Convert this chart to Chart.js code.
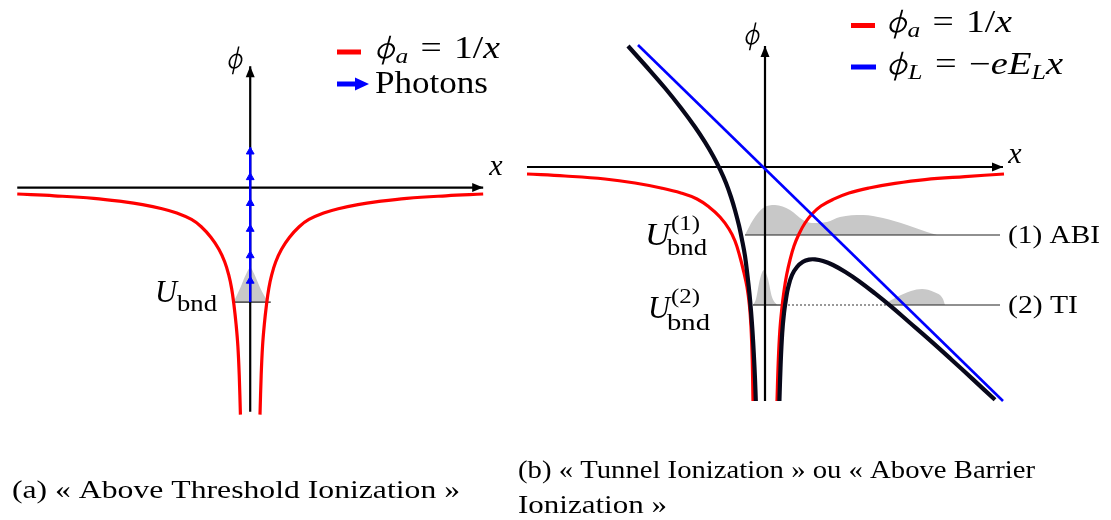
<!DOCTYPE html>
<html>
<head>
<meta charset="utf-8">
<script src="https://cdn.jsdelivr.net/npm/chart.js@4/dist/chart.umd.min.js"></script>
<style>
  body { margin: 0; background: #fff; width: 1111px; height: 520px; overflow: hidden; position: relative; }
  canvas { position: absolute; top: 0; }
</style>
</head>
<body>
<canvas id="chartA" width="520" height="520" style="left:0px"></canvas>
<canvas id="chartB" width="601" height="520" style="left:510px"></canvas>
<script>
// ---- panel (a): above threshold ionization ----
const aAxisX = [-11.9, 11.9];
const aAxisY = [-11.45, 6.2];
const aRedLX = [-11.9, -10, -8, -6.5, -5.5, -4.5, -3.75, -3.0, -2.5, -2.0, -1.6, -1.3, -1.1, -0.95, -0.83, -0.72, -0.63, -0.56, -0.5];
const aRedLY = [-0.33, -0.42, -0.55, -0.72, -0.87, -1.08, -1.3, -1.63, -2.0, -2.55, -3.15, -3.8, -4.45, -5.15, -6.0, -7.0, -8.1, -9.6, -11.6];
const aRedRX = [0.5, 0.56, 0.63, 0.72, 0.83, 0.95, 1.1, 1.3, 1.6, 2.0, 2.5, 3.0, 3.75, 4.5, 5.5, 6.5, 8, 10, 11.9];
const aRedRY = [-11.6, -9.6, -8.1, -7.0, -6.0, -5.15, -4.45, -3.8, -3.15, -2.55, -2.0, -1.63, -1.3, -1.08, -0.87, -0.72, -0.55, -0.42, -0.33];
const aUbnd = -5.85;
const aLevelX = [-0.9, 1.05];
const aWaveX = [-0.85, -0.5, -0.2, 0, 0.2, 0.5, 0.9];
const aWaveY = [-5.85, -5.1, -4.4, -4.1, -4.4, -5.1, -5.85];
const aPhotonLine = [-5.85, 2.05];
const aPhotonHeads = [1.83, 0.52, -0.8, -2.12, -3.47, -4.77];

// ---- panel (b): tunnel / above barrier ionization ----
const bAxisX = [-11.9, 11.9];
const bAxisY = [-11.7, 6.05];
const bRedLX = [-11.9, -10, -8, -6.5, -5.2, -4.2, -3.4, -2.8, -2.25, -1.8, -1.5, -1.25, -1.05, -0.9, -0.78, -0.7, -0.64, -0.6];
const bRedLY = [-0.35, -0.45, -0.6, -0.8, -1.05, -1.3, -1.6, -2.0, -2.5, -3.1, -3.7, -4.5, -5.3, -6.0, -6.9, -8.0, -9.6, -11.7];
const bRedRX = [0.6, 0.66, 0.74, 0.84, 0.95, 1.08, 1.25, 1.45, 1.7, 2.0, 2.35, 2.8, 3.4, 4.2, 5.2, 6.5, 8.0, 10, 11.95];
const bRedRY = [-11.7, -9.8, -8.2, -7.1, -6.2, -5.4, -4.65, -3.95, -3.35, -2.8, -2.35, -1.95, -1.62, -1.3, -1.05, -0.82, -0.63, -0.48, -0.35];
const bBlackLX = [-6.85, -6.0, -5.0, -4.2, -3.5, -3.0, -2.6, -2.25, -1.95, -1.7, -1.5, -1.3, -1.15, -1.0, -0.88, -0.78, -0.7, -0.63, -0.56, -0.5, -0.46];
const bBlackLY = [6.05, 5.1, 3.95, 2.95, 2.0, 1.24, 0.56, -0.12, -0.8, -1.5, -2.16, -2.93, -3.64, -4.45, -5.4, -6.3, -7.2, -8.15, -9.35, -10.6, -11.7];
const bBlackRX = [0.72, 0.78, 0.86, 0.95, 1.05, 1.15, 1.35, 1.6, 1.9, 2.2, 2.5, 2.9, 3.4, 4.0, 4.7, 5.5, 6.3, 7.2, 8.2, 9.3, 10.4, 11.5];
const bBlackRY = [-11.7, -9.9, -8.3, -7.3, -6.6, -6.05, -5.4, -5.0, -4.74, -4.63, -4.62, -4.7, -4.9, -5.24, -5.71, -6.32, -6.97, -7.75, -8.62, -9.61, -10.62, -11.64];
const bBlueX = [-6.35, 11.9];
const bBlueY = [6.1, -11.7];
const bLevel1 = -3.4;
const bLevel1X = [-1.0, 11.75];
const bLevel2 = -6.9;
const bLevel2X = [-0.6, 0.95, 6.2, 11.75];
const bWave1X = [-1.0, -0.6, -0.1, 0.5, 1.25, 1.9, 2.35, 3.1, 3.75, 4.9, 5.9, 7.1, 8.1, 8.6];
const bWave1Y = [-3.4, -2.65, -2.05, -1.9, -2.15, -2.65, -2.8, -2.75, -2.5, -2.4, -2.55, -2.9, -3.25, -3.4];
const bWave2X = [-0.6, -0.45, -0.25, -0.05, 0.15, 0.35, 0.6];
const bWave2Y = [-6.9, -6.6, -5.6, -5.15, -5.6, -6.5, -6.9];
const bWave3X = [5.9, 6.6, 7.3, 7.85, 8.45, 8.9, 9.0];
const bWave3Y = [-6.9, -6.5, -6.2, -6.1, -6.25, -6.6, -6.9];

const PX = 20; // pixels per data unit in both panels
const SERIF = '"Liberation Serif", "DejaVu Serif", serif';
const RED = '#ff0000', BLUE = '#0000ff', INK = '#000000', CURVE = '#08081a', GRAY = '#c8c8c8';

function pts(xs, ys) {
    return xs.map((x, i) => ({ x: x, y: ys[i] }));
}

function line(data, color, width, order, extra) {
    return Object.assign({
        data: data, borderColor: color, borderWidth: width, order: order,
        pointRadius: 0, showLine: true, fill: false, clip: false, tension: 0
    }, extra || {});
}

function curve(data, color, width, order) {
    return line(data, color, width, order, { tension: 0.4 });
}

function bump(data, base) {
    return {
        data: data, order: 20, showLine: true, pointRadius: 0, clip: false,
        borderWidth: 0, borderColor: 'rgba(0,0,0,0)', backgroundColor: GRAY,
        fill: { value: base }, cubicInterpolationMode: 'monotone'
    };
}

function scales(w, h, ox, oy) {
    return {
        x: { type: 'linear', display: false, min: -ox / PX, max: (w - ox) / PX },
        y: { type: 'linear', display: false, min: -(h - oy) / PX, max: oy / PX }
    };
}

// arrow heads on the last point of flagged datasets
const arrowPlugin = {
    id: 'arrowHeads',
    afterDatasetsDraw(chart) {
        const ctx = chart.ctx;
        chart.data.datasets.forEach((ds, i) => {
            if (!ds.arrowEnd) return;
            const el = chart.getDatasetMeta(i).data;
            const a = el[el.length - 2], b = el[el.length - 1];
            const ang = Math.atan2(b.y - a.y, b.x - a.x);
            ctx.save();
            ctx.translate(b.x, b.y);
            ctx.rotate(ang);
            ctx.beginPath();
            ctx.moveTo(0, 0);
            ctx.lineTo(-11, -4.5);
            ctx.lineTo(-11, 4.5);
            ctx.closePath();
            ctx.fillStyle = ds.borderColor;
            ctx.fill();
            ctx.restore();
        });
    }
};

// the math phi (bowl + slanted stem), none of the fonts has a light one
function drawPhi(ctx, x, s) {
    ctx.save();
    ctx.translate(x + 0.3 * s, 0);
    ctx.transform(1, 0, -0.22, 1, 0, 0);
    ctx.strokeStyle = INK;
    ctx.lineWidth = 0.055 * s;
    ctx.beginPath();
    ctx.ellipse(0, -0.23 * s, 0.2 * s, 0.23 * s, 0, 0, Math.PI * 2);
    ctx.stroke();
    ctx.lineWidth = 0.05 * s;
    ctx.beginPath();
    ctx.moveTo(0, -0.72 * s);
    ctx.lineTo(0, 0.21 * s);
    ctx.stroke();
    ctx.restore();
}

function runFont(r) {
    return (r[1] === 'i' ? 'italic ' : '') + r[2] + 'px ' + SERIF;
}

// runs: [text, kind, size, dy]; kind 'n' upright, 'i' italic, 'phi' drawn glyph, 'gap' blank of width size
function drawRuns(ctx, item) {
    let total = 0;
    const widths = item.runs.map(r => {
        let w;
        if (r[1] === 'phi') {
            w = 0.6 * r[2];
        } else if (r[1] === 'gap') {
            w = r[2];
        } else {
            ctx.font = runFont(r);
            w = ctx.measureText(r[0]).width;
        }
        total += w;
        return w;
    });
    const sx = item.w ? item.w / total : 1;
    const x0 = item.center ? item.x - total * sx / 2 : item.x;
    ctx.save();
    ctx.translate(x0, item.y);
    ctx.scale(sx, 1);
    ctx.fillStyle = INK;
    ctx.textBaseline = 'alphabetic';
    let cx = 0;
    item.runs.forEach((r, i) => {
        if (r[1] === 'phi') {
            drawPhi(ctx, cx, r[2]);
        } else if (r[1] !== 'gap') {
            ctx.font = runFont(r);
            ctx.fillText(r[0], cx, r[3]);
        }
        cx += widths[i];
    });
    ctx.restore();
}

function textPlugin(items, legend) {
    return {
        id: 'texts',
        afterDraw(chart) {
            const ctx = chart.ctx;
            legend(ctx);
            items.forEach(it => drawRuns(ctx, it));
        }
    };
}

const phiA = [['ϕ', 'phi', 31, 0], ['a', 'i', 21, 5], ['', 'gap', 10, 0], ['=', 'n', 31, 0],
              ['', 'gap', 10, 0], ['1/', 'n', 31, 0], ['x', 'i', 31, 0]];
const phiL = [['ϕ', 'phi', 31, 0], ['L', 'i', 21, 5], ['', 'gap', 10, 0], ['=', 'n', 31, 0],
              ['', 'gap', 10, 0], ['−', 'n', 31, 0], ['eE', 'i', 31, 0], ['L', 'i', 21, 5], ['x', 'i', 31, 0]];

const textsA = [
    { x: 373, y: 58, w: 127, runs: phiA },
    { x: 375, y: 93, w: 113, runs: [['Photons', 'n', 31, 0]] },
    { x: 234, y: 68, center: true, runs: [['ϕ', 'phi', 30, 0]] },
    { x: 496, y: 175, center: true, runs: [['x', 'i', 30, 0]] },
    { x: 155, y: 302, w: 22, runs: [['U', 'i', 32, 0]] },
    { x: 177, y: 311, w: 40, runs: [['bnd', 'n', 23, 0]] },
    { x: 12, y: 498, w: 448, runs: [['(a) « Above Threshold Ionization »', 'n', 26, 0]] }
];

const textsB = [
    { x: 375, y: 32, w: 127, runs: phiA },
    { x: 375, y: 74, w: 178, runs: phiL },
    { x: 241, y: 44, center: true, runs: [['ϕ', 'phi', 30, 0]] },
    { x: 505, y: 163, center: true, runs: [['x', 'i', 30, 0]] },
    { x: 135, y: 245, w: 25, runs: [['U', 'i', 32, 0]] },
    { x: 161, y: 230, w: 29, runs: [['(1)', 'n', 21, 0]] },
    { x: 157, y: 255, w: 40, runs: [['bnd', 'n', 23, 0]] },
    { x: 138, y: 318, w: 22, runs: [['U', 'i', 32, 0]] },
    { x: 161, y: 303, w: 29, runs: [['(2)', 'n', 21, 0]] },
    { x: 157, y: 330, w: 43, runs: [['bnd', 'n', 23, 0]] },
    { x: 498, y: 243, w: 92, runs: [['(1) ABI', 'n', 25, 0]] },
    { x: 498, y: 313, w: 70, runs: [['(2) TI', 'n', 25, 0]] },
    { x: 8, y: 478, w: 517, runs: [['(b) « Tunnel Ionization » ou « Above Barrier', 'n', 26, 0]] },
    { x: 8, y: 513, w: 149, runs: [['Ionization »', 'n', 26, 0]] }
];

function legendA(ctx) {
    ctx.fillStyle = RED;
    ctx.fillRect(337, 49.5, 24, 5);
    ctx.fillStyle = BLUE;
    ctx.fillRect(337, 81.5, 20, 5);
    ctx.beginPath();
    ctx.moveTo(369, 84);
    ctx.lineTo(355, 77.5);
    ctx.lineTo(355, 90.5);
    ctx.closePath();
    ctx.fill();
}

function legendB(ctx) {
    ctx.fillStyle = RED;
    ctx.fillRect(341, 23, 24, 5);
    ctx.fillStyle = BLUE;
    ctx.fillRect(341, 64.5, 25, 5);
}

new Chart(document.getElementById('chartA'), {
    type: 'scatter',
    data: {
        datasets: [
            bump(pts(aWaveX, aWaveY), aUbnd),
            line(pts(aLevelX, [aUbnd, aUbnd]), '#222', 1.2, 9),
            line(pts(aAxisX, [0, 0]), INK, 2.2, 8, { arrowEnd: true }),
            line(pts([0, 0], aAxisY), INK, 2.2, 8, { arrowEnd: true }),
            curve(pts(aRedLX, aRedLY), RED, 3.2, 5),
            curve(pts(aRedRX, aRedRY), RED, 3.2, 5),
            line(pts([0, 0], aPhotonLine), BLUE, 2.4, 3),
            {
                data: aPhotonHeads.map(y => ({ x: 0, y: y })), order: 2, showLine: false, clip: false,
                pointStyle: 'triangle', pointRadius: 4.5, borderWidth: 1,
                backgroundColor: BLUE, borderColor: BLUE
            }
        ]
    },
    options: {
        responsive: false,
        animation: false,
        layout: { padding: 0 },
        scales: scales(520, 520, 250, 186),
        plugins: { legend: { display: false }, tooltip: { enabled: false } }
    },
    plugins: [arrowPlugin, textPlugin(textsA, legendA)]
});

new Chart(document.getElementById('chartB'), {
    type: 'scatter',
    data: {
        datasets: [
            bump(pts(bWave1X, bWave1Y), bLevel1),
            bump(pts(bWave2X, bWave2Y), bLevel2),
            bump(pts(bWave3X, bWave3Y), bLevel2),
            line(pts(bLevel1X, [bLevel1, bLevel1]), '#222', 1.2, 9),
            line(pts(bLevel2X.slice(0, 2), [bLevel2, bLevel2]), '#222', 1.2, 9),
            line(pts(bLevel2X.slice(1, 3), [bLevel2, bLevel2]), '#555', 1.2, 9, { borderDash: [2, 2] }),
            line(pts(bLevel2X.slice(2, 4), [bLevel2, bLevel2]), '#222', 1.2, 9),
            line(pts(bAxisX, [0, 0]), INK, 2.2, 8, { arrowEnd: true }),
            line(pts([0, 0], bAxisY), INK, 2.2, 8, { arrowEnd: true }),
            curve(pts(bRedLX, bRedLY), RED, 3.2, 6),
            curve(pts(bRedRX, bRedRY), RED, 3.2, 6),
            curve(pts(bBlackLX, bBlackLY), CURVE, 4.2, 5),
            curve(pts(bBlackRX, bBlackRY), CURVE, 4.2, 5),
            line(pts(bBlueX, bBlueY), BLUE, 2.6, 4)
        ]
    },
    options: {
        responsive: false,
        animation: false,
        layout: { padding: 0 },
        scales: scales(601, 520, 255, 167),
        plugins: { legend: { display: false }, tooltip: { enabled: false } }
    },
    plugins: [arrowPlugin, textPlugin(textsB, legendB)]
});
</script>
</body>
</html>
